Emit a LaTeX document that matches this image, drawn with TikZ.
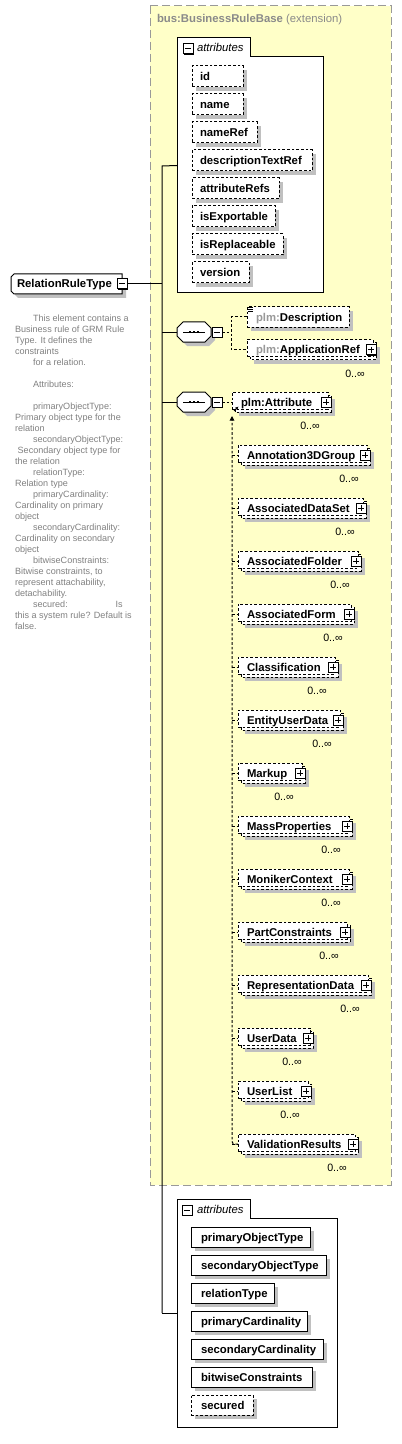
\documentclass[tikz,border=0pt]{standalone}
\usepackage{fontspec}
\setmainfont{Liberation Sans}
\usetikzlibrary{fit,arrows.meta}
\definecolor{yfill}{HTML}{FFFFC8}
\definecolor{ybord}{HTML}{999999}
\definecolor{shad}{HTML}{C0C0C0}
\definecolor{pfx}{HTML}{999999}
\definecolor{doc}{HTML}{808080}
\definecolor{ttl}{HTML}{8A8A8A}
\tikzset{
  every node/.style={inner sep=0pt, outer sep=0pt},
  lbl/.style={font=\fontsize{8.5}{10}\selectfont\bfseries, anchor=base west},
  card/.style={font=\fontsize{8}{9}\selectfont},
  optbox/.style={draw, fill=white, dash pattern=on 2pt off 1.5pt, line width=0.75pt},
  reqbox/.style={draw, fill=white, line width=0.75pt},
  conn/.style={line width=0.75pt},
  dconn/.style={line width=0.75pt, dash pattern=on 2pt off 1.5pt},
  pics/minusicon/.style={code={
    \fill[black] (-4,-4) rectangle (6,6);
    \draw[fill=white, line width=0.75pt] (-5,-5) rectangle (5,5);
    \draw[line width=0.75pt] (-3,0) -- (3,0);
  }},
  pics/plusicon/.style={code={
    \fill[black] (-4,-4) rectangle (6,6);
    \draw[fill=white, line width=0.75pt] (-5,-5) rectangle (5,5);
    \draw[line width=0.75pt] (-3,0) -- (3,0) (0,-3) -- (0,3);
  }},
}
% single element box: name, style, x1, y1, x2, y2, text, text x offset
\newcommand\elbox[8]{%
  \fill[shad] (#3+4,#4+4) rectangle (#5+4,#6+4);
  \node[#2, fit={(#3,#4)(#5,#6)}] (#1) {};
  \node[lbl] (#1-t) at (#3+#8,{(#4+#6)/2+4}) {#7};
}
% multi-occurrence element: name, x1, yc, R, text
\newcommand\multibox[5]{%
  \fill[shad] (#2+7,#3-3) rectangle (#4+4,#3+14);
  \draw[optbox] (#2+3,#3-7) rectangle (#4,#3+10);
  \node[optbox, fit={(#2,#3-10)(#4-3,#3+7)}] (#1) {};
  \node[lbl] (#1-t) at (#2+9,#3+4) {#5};
  \pic at (#4-5,#3) {plusicon};
  \node[card] (#1-c) at (#4-21,#3+24) {0..∞};
}
% sequence compositor: name, yc
\newcommand\seqnode[2]{%
  \fill[shad, shift={(4,4)}] (183,#2-10) -- (205,#2-10) -- (211,#2-4) -- (211,#2+4) -- (205,#2+10) -- (183,#2+10) -- (177,#2+4) -- (177,#2-4) -- cycle;
  \draw[conn, fill=white] (183,#2-10) -- (205,#2-10) -- (211,#2-4) -- (211,#2+4) -- (205,#2+10) -- (183,#2+10) -- (177,#2+4) -- (177,#2-4) -- cycle;
  \node[fit={(177,#2-10)(211,#2+10)}] (#1) {};
  \draw[conn] (183,#2) -- (205,#2);
  \foreach \dx in {190,194,198} {\fill (\dx-1.3,#2-1.3) rectangle (\dx+1.3,#2+1.3);}
  \pic at (217,#2) {minusicon};
}
\begin{document}
\begin{tikzpicture}[x=0.75pt,y=-0.75pt]
\useasboundingbox (0,0) rectangle (402,1444);

% extension base
\draw[fill=yfill, draw=ybord, line width=0.75pt, dash pattern=on 6pt off 3pt] (150,6) rectangle (391,1185);
\node[anchor=base west, text=ttl, font=\fontsize{8.5}{10}\selectfont] (base) at (157,22.5) {\textbf{bus:BusinessRuleBase} (extension)};

% top attributes group
\draw[conn, fill=white] (177,38) -- (250,38) -- (250,57) -- (323,57) -- (323,293) -- (177,293) -- cycle;
\node[fit={(177,38)(323,293)}] (attrs1) {};
\pic at (188,49) {minusicon};
\node[anchor=base west, font=\fontsize{8.5}{10}\selectfont\itshape] (attrs1-t) at (197,52) {attributes};
\foreach \nm/\R [count=\i from 0] in {id/243,name/243,nameRef/257,descriptionTextRef/312,attributeRefs/279,isExportable/275,isReplaceable/283,version/249}{
  \pgfmathsetmacro\yt{66+28*\i}
  \elbox{a\i}{optbox}{192}{\yt}{\R}{\yt+21}{\nm}{8}
}

% root element
\fill[shad, shift={(4,4)}] (14,274) -- (122,274) -- (122,294) -- (14,294) -- (11,291) -- (11,277) -- cycle;
\draw[conn, fill=white] (14,274) -- (122,274) -- (122,294) -- (14,294) -- (11,291) -- (11,277) -- cycle;
\node[fit={(11,274)(122,294)}] (rrt) {};
\node[lbl] (rrt-t) at (17,288) {RelationRuleType};
\pic at (122,284) {minusicon};
\coordinate (rrt-pm) at (127,284);

% documentation
\node[anchor=north west, text=doc, align=left, font=\fontsize{6.8}{8.25}\selectfont] (doc) at (15,314.5) {%
\hspace*{13.5pt}This element contains a\\
Business rule of GRM Rule\\
Type. It defines the\\
constraints\\
\hspace*{13.5pt}for a relation.\\
\mbox{}\\
\hspace*{13.5pt}Attributes:\\
\mbox{}\\
\hspace*{13.5pt}primaryObjectType:\\
Primary object type for the\\
relation\\
\hspace*{13.5pt}secondaryObjectType:\\
\hspace*{2pt}Secondary object type for\\
the relation\\
\hspace*{13.5pt}relationType:\\
Relation type\\
\hspace*{13.5pt}primaryCardinality:\\
Cardinality on primary\\
object\\
\hspace*{13.5pt}secondaryCardinality:\\
Cardinality on secondary\\
object\\
\hspace*{13.5pt}bitwiseConstraints:\\
Bitwise constraints, to\\
represent attachability,\\
detachability.\\
\hspace*{13.5pt}\makebox[62pt][l]{secured:}Is\\
this a system rule? Default is\\
false.};

% sequences
\seqnode{seq1}{332}
\seqnode{seq2}{402}

% trunk
\coordinate (tr-root) at (162,284);
\coordinate (tr-top) at (162,166);
\coordinate (tr-s1) at (162,332);
\coordinate (tr-s2) at (162,402);
\coordinate (tr-bot) at (162,1313);
\draw[conn] (rrt-pm) -- (tr-root);
\draw[conn] (attrs1.west) -- (tr-top) -- (tr-bot);
\draw[conn] (tr-s1) -- (seq1.west);
\draw[conn] (tr-s2) -- (seq2.west);

% first sequence children
\elbox{desc}{optbox}{247}{307}{349}{327}{\textcolor{pfx}{plm:}Description}{9}
\draw[line width=0.6pt] (248,307.5) -- (253,307.5) (248,309.5) -- (253,309.5) (248,311.5) -- (253,311.5);
\multibox{appref}{247}{349.5}{376}{\textcolor{pfx}{plm:}ApplicationRef}
\coordinate (br1) at (231,332);
\coordinate (br1a) at (231,317);
\coordinate (br1b) at (231,349.5);
\draw[dconn] (222,332) -- (br1);
\draw[dconn] (desc.west |- br1a) -- (br1a) -- (br1b) -- (appref.west |- br1b);

% second sequence: substitution group head
\multibox{attr}{232}{402}{331}{plm:Attribute}
\draw[dconn] (222,402) -- (attr.west |- 222,402);
\draw[-{Latex[length=2.5pt,width=2.5pt]}, line width=0.6pt] (234,411) -- (238.5,406.5);

\foreach \nm/\R [count=\i from 0] in {Annotation3DGroup/370,AssociatedDataSet/366,AssociatedFolder/361,AssociatedForm/354,Classification/338,EntityUserData/343,Markup/305,MassProperties/352,MonikerContext/352,PartConstraints/350,RepresentationData/371,UserData/313,UserList/311,ValidationResults/358}{
  \pgfmathsetmacro\yc{455+53*\i}
  \multibox{s\i}{238}{\yc}{\R}{\nm}
  \draw[dconn] (232,\yc) -- (s\i.west |- 232,\yc);
}
\draw[dconn, rounded corners=2pt, -{Triangle[length=3.5pt,width=3.5pt]}] (s13.west |- 232,1144) -- (232,1144) -- (232,416);

% bottom attributes group
\draw[conn, fill=white] (177,1199) -- (250,1199) -- (250,1218) -- (337,1218) -- (337,1427) -- (177,1427) -- cycle;
\node[fit={(177,1199)(337,1427)}] (attrs2) {};
\pic at (187,1210) {minusicon};
\node[anchor=base west, font=\fontsize{8.5}{10}\selectfont\itshape] (attrs2-t) at (197,1213) {attributes};
\foreach \nm/\R/\st [count=\i from 0] in {primaryObjectType/310/reqbox,secondaryObjectType/326/reqbox,relationType/274/reqbox,primaryCardinality/307/reqbox,secondaryCardinality/323/reqbox,bitwiseConstraints/312/reqbox,secured/253/optbox}{
  \pgfmathsetmacro\yt{1227+28*\i}
  \elbox{b\i}{\st}{191}{\yt}{\R}{\yt+20}{\nm}{10}
}
\draw[conn] (tr-bot) -- (attrs2.west);
\end{tikzpicture}
\end{document}
